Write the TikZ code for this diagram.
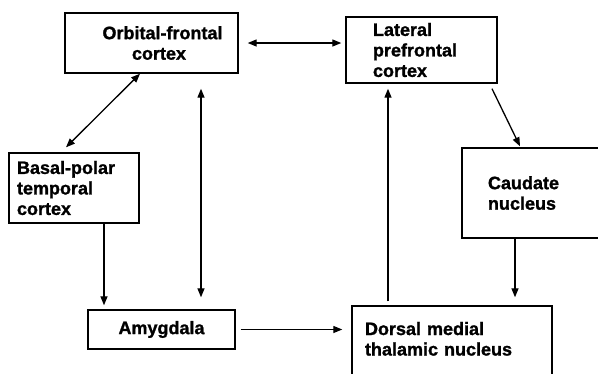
\documentclass[tikz,border=0pt]{standalone}
\usepackage{fontspec}
\setmainfont{Liberation Sans}[BoldFeatures={FakeBold=1.3}]
\usetikzlibrary{positioning,arrows.meta}

\begin{document}
\begin{tikzpicture}[x=1pt,y=-1pt,
box/.style={draw,rectangle,line width=1.4pt,inner sep=0pt,align=left,
    font=\fontsize{18}{20.5}\selectfont\bfseries},
arr/.style={line width=1.3pt,-{Triangle[length=9pt,width=7pt]}},
dbl/.style={line width=1.3pt,{Triangle[length=9pt,width=7pt]}-{Triangle[length=9pt,width=7pt]}}]
\clip (0,0) rectangle (598,373);
\node (ofc) [box,text width=173pt,minimum height=60pt,align=center] at (151.5,43)
    {\hspace*{22pt}Orbital-frontal\\ \hspace*{15pt}cortex};
\node (lpfc) [box,text width=151pt,minimum height=66pt] at (421.5,50)
    {\hspace*{27pt}Lateral\\ \hspace*{27pt}prefrontal\\ \hspace*{27pt}cortex};
\node (bptc) [box,text width=130pt,minimum height=70pt] at (74,188)
    {\hspace*{8pt}Basal-polar\\ \hspace*{8pt}temporal\\ \hspace*{8pt}cortex};
\node (cau) [box,text width=158pt,minimum height=90pt] at (541,193)
    {\hspace*{26pt}Caudate\\ \hspace*{26pt}nucleus};
\node (amy) [box,text width=147pt,minimum height=39pt,align=center] at (161.5,329.5)
    {Amygdala\hspace*{9pt}};
\node (dmtn) [box,text width=200pt,minimum height=86pt] at (452,349)
    {\hspace*{13pt}Dorsal medial\\ \hspace*{13pt}thalamic nucleus\\ \mbox{}};

\draw[dbl] ([xshift=9pt]ofc.east) -- ([xshift=-4pt]ofc.east -| lpfc.west);
\draw[dbl] ([xshift=-11.5pt]ofc.south) -- ([xshift=-8pt,yshift=5pt]bptc.north);
\draw[dbl] ([xshift=49.5pt,yshift=-15pt]ofc.south) -- ([xshift=39.5pt,yshift=12pt]amy.north);
\draw[arr] ([xshift=30pt]bptc.south) -- ([xshift=30pt,yshift=4pt]bptc.south |- amy.north);
\draw[arr] ([xshift=5pt]amy.east) -- ([xshift=-9pt]amy.east -| dmtn.west);
\draw[arr] ([xshift=-64pt,yshift=4pt]dmtn.north) -- ([xshift=-33.5pt,yshift=-5pt]lpfc.south);
\draw[arr] ([xshift=70.5pt,yshift=-5pt]lpfc.south) -- ([xshift=-21pt,yshift=1pt]cau.north);
\draw[arr] ([xshift=-26pt]cau.south) -- ([xshift=63pt,yshift=8pt]dmtn.north);
\end{tikzpicture}
\end{document}
